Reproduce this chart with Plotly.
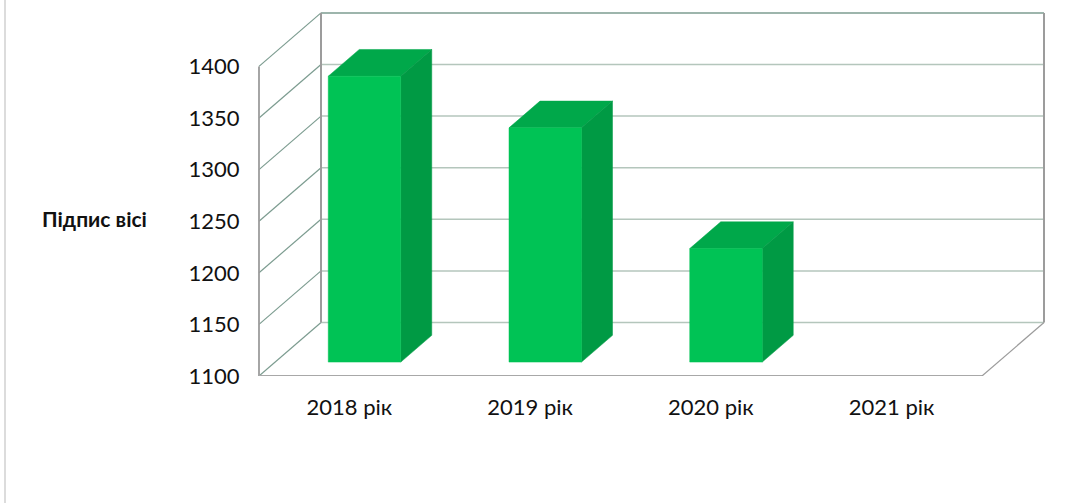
import plotly.graph_objects as go

categories = ["2018 рік", "2019 рік", "2020 рік", "2021 рік"]
values = [1377, 1327, 1210, None]
y_ticks = [1100, 1150, 1200, 1250, 1300, 1350, 1400]
axis_title = "Підпис вісі"

# layout of the oblique projection, in axis units
W, H = 1071, 503
L, R, T, B = 255, 1052, 8, 376
OX = 259                # x pixel of the front-left corner
px_x = 180.75           # pixels per category
px_y = 1.032            # pixels per value unit
DX = 62 / px_x          # wall depth, x units
DY = 53.5 / px_y        # wall depth, y units
Y0 = 1100
YTOP = 1400
D0, D1 = 0.26, 0.76     # bar depth range
BW = 72.5 / px_x        # bar width

GREEN, GTOP, GSIDE = "#00c355", "#00a84a", "#009a44"
WALL, DIAG, GRID = "#9c9c9c", "#7c9c90", "#b4c6bc"
FONT = "Lato"

n = len(categories)
fig = go.Figure()


def line(xs, ys, color, width):
    fig.add_trace(go.Scatter(x=xs, y=ys, mode="lines", line=dict(color=color, width=width),
                             hoverinfo="skip", showlegend=False))


def face(xs, ys, color):
    fig.add_trace(go.Scatter(x=xs, y=ys, mode="lines", fill="toself", fillcolor=color,
                             line=dict(color=color, width=0.5),
                             hoverinfo="skip", showlegend=False))


# back-wall gridlines and side-wall diagonals
for t in y_ticks:
    line([DX, n + DX], [t + DY, t + DY], DIAG if t == YTOP else GRID, 1.5)
    line([0, DX], [t, t + DY], DIAG, 1.2)
# walls and floor
line([0, 0], [Y0, YTOP], WALL, 1.8)
line([DX, DX], [Y0 + DY, YTOP + DY], WALL, 2)
line([n + DX, n + DX], [Y0 + DY, YTOP + DY], WALL, 2)
line([0, n], [Y0, Y0], "#a8a8a8", 2)
line([n, n + DX], [Y0, Y0 + DY], WALL, 1.2)

# bars
for i, v in enumerate(values):
    if v is None:
        continue
    x0 = i + 0.5 - BW / 2 + D0 * DX - 1 / px_x
    x1 = x0 + BW
    a_y = D0 * DY
    b_x, b_y = (D1 - D0) * DX, (D1 - D0) * DY
    base, top = Y0 + a_y, v + a_y
    face([x0, x1, x1 + b_x, x0 + b_x, x0], [top, top, top + b_y, top + b_y, top], GTOP)
    face([x1, x1 + b_x, x1 + b_x, x1, x1], [base, base + b_y, top + b_y, top, base], GSIDE)
    face([x0, x1, x1, x0, x0], [base, base, top, top, base], GREEN)

fig.add_annotation(text="<b>" + axis_title + "</b>", xref="paper", yref="paper",
                   x=(94 - L) / (R - L), y=1 - (218 - T) / (B - T), showarrow=False,
                   xanchor="center", yanchor="middle",
                   font=dict(family=FONT, size=21, color="#111111"))
fig.add_shape(type="line", xref="paper", yref="paper",
              x0=(5 - L) / (R - L), x1=(5 - L) / (R - L),
              y0=1 - (H - T) / (B - T), y1=1 + T / (B - T),
              line=dict(color="#dcdcdc", width=2))

fig.update_layout(
    width=W, height=H, autosize=False, showlegend=False,
    margin=dict(l=L, r=W - R, t=T, b=H - B, pad=0),
    paper_bgcolor="white", plot_bgcolor="white",
    xaxis=dict(range=[(L - OX) / px_x, (R - OX) / px_x], tickmode="array",
               tickvals=[i + 0.5 for i in range(n)], ticktext=categories,
               showgrid=False, zeroline=False, ticks="outside", ticklen=12,
               tickcolor="rgba(0,0,0,0)", showline=False,
               tickfont=dict(family=FONT, size=22, color="#111111")),
    yaxis=dict(range=[Y0, Y0 + (B - T) / px_y], tickmode="array", tickvals=y_ticks,
               showgrid=False, zeroline=False, ticks="outside", ticklen=10,
               tickcolor="rgba(0,0,0,0)", showline=False,
               tickfont=dict(family=FONT, size=22, color="#111111")),
)

fig.write_html("out.html", config=dict(displayModeBar=False),
               post_script="document.body.style.margin='0';")
